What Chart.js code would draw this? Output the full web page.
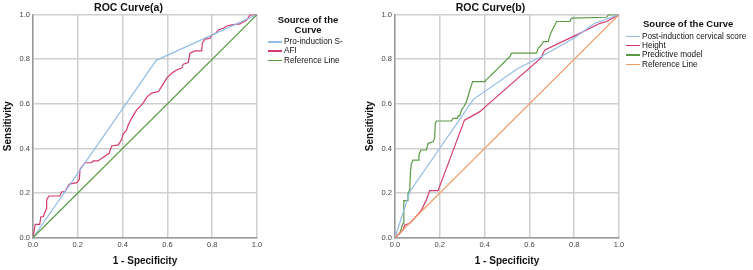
<!DOCTYPE html>
<html>
<head>
<meta charset="utf-8">
<script src="https://cdn.jsdelivr.net/npm/chart.js@4"></script>
<style>
  html, body { margin:0; padding:0; background:#fff; }
  body { width:753px; height:270px; position:relative; overflow:hidden; font-family:"Liberation Sans", Arial, sans-serif; }
  canvas { position:absolute; top:0; }
  .lg { position:absolute; color:#111; }
  .lg .t { font-weight:bold; font-size:9.5px; line-height:9.5px; text-align:center; }
  .lg .it { font-size:8.2px; line-height:9.4px; white-space:nowrap; position:relative; padding-left:16px; }
  .lg .it span { position:absolute; left:0; top:4px; width:14px; height:1.5px; }
</style>
</head>
<body>
<canvas id="ca" width="376" height="270" style="left:0;width:376px;height:270px"></canvas>
<canvas id="cb" width="376" height="270" style="left:362px;width:376px;height:270px"></canvas>

<div class="lg" id="lga" style="left:268px;top:15px;width:80px;">
  <div class="t">Source of the<br>Curve</div>
</div>
<div class="lg" id="lgb" style="left:626px;top:19px;width:127px;">
  <div class="t" style="text-align:left;padding-left:17px;">Source of the Curve</div>
</div>

<script>
// ---------- Data ----------
const tickValues = [0.0, 0.2, 0.4, 0.6, 0.8, 1.0];

// ROC Curve (a)
const proInductionX = [0, 0.55, 1];
const proInductionY = [0, 0.795, 1];

const afiX = [0, 0.01, 0.03, 0.035, 0.046, 0.06, 0.061, 0.071, 0.12, 0.128, 0.143, 0.155, 0.162, 0.195, 0.207, 0.21, 0.225, 0.232, 0.262, 0.269, 0.29, 0.34, 0.351, 0.381, 0.396, 0.403, 0.418, 0.425, 0.44, 0.463, 0.492, 0.508, 0.53, 0.56, 0.574, 0.597, 0.619, 0.641, 0.664, 0.671, 0.693, 0.701, 0.723, 0.753, 0.756, 0.768, 0.79, 0.798, 0.817, 0.827, 0.85, 0.865, 0.887, 0.924, 0.954, 0.969, 1];
const afiY = [0, 0.06, 0.06, 0.094, 0.094, 0.13, 0.169, 0.187, 0.187, 0.206, 0.206, 0.229, 0.24, 0.247, 0.262, 0.307, 0.326, 0.336, 0.336, 0.344, 0.344, 0.378, 0.411, 0.416, 0.441, 0.466, 0.483, 0.505, 0.535, 0.573, 0.603, 0.63, 0.648, 0.655, 0.677, 0.715, 0.737, 0.752, 0.76, 0.778, 0.785, 0.827, 0.837, 0.837, 0.872, 0.89, 0.894, 0.909, 0.917, 0.931, 0.939, 0.949, 0.954, 0.958, 0.976, 0.999, 1];

const refX = [0, 1];
const refY = [0, 1];

// ROC Curve (b)
const postInductionX = [0, 0.066, 0.35, 0.55, 0.65, 0.8, 0.89, 1];
const postInductionY = [0, 0.206, 0.62, 0.76, 0.81, 0.895, 0.96, 1];

const heightX = [0, 0.021, 0.036, 0.043, 0.066, 0.08, 0.118, 0.14, 0.155, 0.192, 0.241, 0.31, 0.379, 0.409, 0.652, 0.669, 0.811, 0.915, 0.945, 1];
const heightY = [0, 0.02, 0.035, 0.057, 0.065, 0.079, 0.124, 0.169, 0.211, 0.211, 0.341, 0.527, 0.565, 0.592, 0.806, 0.842, 0.909, 0.961, 0.969, 1];

const modelX = [0, 0.021, 0.029, 0.036, 0.039, 0.04, 0.054, 0.058, 0.066, 0.069, 0.073, 0.08, 0.103, 0.107, 0.115, 0.14, 0.148, 0.17, 0.177, 0.18, 0.185, 0.252, 0.259, 0.279, 0.282, 0.289, 0.297, 0.307, 0.316, 0.326, 0.334, 0.342, 0.346, 0.401, 0.409, 0.423, 0.438, 0.453, 0.468, 0.483, 0.498, 0.513, 0.52, 0.632, 0.639, 0.654, 0.662, 0.684, 0.692, 0.699, 0.714, 0.721, 0.781, 0.788, 0.945, 0.952, 1];
const modelY = [0, 0.02, 0.042, 0.065, 0.124, 0.166, 0.166, 0.2, 0.214, 0.296, 0.33, 0.348, 0.348, 0.371, 0.393, 0.393, 0.423, 0.43, 0.446, 0.513, 0.523, 0.523, 0.535, 0.535, 0.546, 0.546, 0.573, 0.587, 0.603, 0.632, 0.662, 0.685, 0.7, 0.7, 0.71, 0.722, 0.737, 0.752, 0.767, 0.782, 0.797, 0.812, 0.827, 0.827, 0.849, 0.864, 0.879, 0.879, 0.909, 0.924, 0.954, 0.969, 0.969, 0.984, 0.988, 0.999, 1];

const namesA = ["Pro-induction S-", "AFI", "Reference Line"];
const namesB = ["Post-induction cervical score", "Height", "Predictive model", "Reference Line"];

// ---------- Styles ----------
const BLUE = "#93bde6", RED = "#d43a6c", GREEN = "#5a9a44", ORANGE = "#f09a66";
const FONT = "'Liberation Sans', Arial, sans-serif";

function pts(xs, ys) { return xs.map((x, i) => ({x: x, y: ys[i]})); }
function ds(label, xs, ys, color) {
  return { label, data: pts(xs, ys), borderColor: color, backgroundColor: color,
           borderWidth: 1.2, pointRadius: 0, tension: 0, fill: false };
}

function makeOptions(title) {
  return {
    responsive: false, animation: false,
    layout: { padding: { left: 0, right: 119, top: 0, bottom: 0 } },
    plugins: {
      legend: { display: false },
      tooltip: { enabled: false },
      title: { display: true, text: title, color: "#111",
               font: { family: FONT, size: 10.5, weight: "bold" }, padding: { top: 2, bottom: 0 } }
    },
    scales: {
      x: {
        type: "linear", min: 0, max: 1,
        afterBuildTicks: s => { s.ticks = tickValues.map(v => ({value: v})); },
        afterFit: s => { s.height = 32.3; },
        ticks: { color: "#444", font: { family: FONT, size: 7.5 }, padding: 3,
                 callback: v => Number(v).toFixed(1), maxRotation: 0, autoSkip: false },
        grid: { color: "#cfcfcf", lineWidth: 1.5, drawTicks: false },
        border: { color: "#999999", width: 1.5 },
        title: { display: true, text: "1 - Specificity", color: "#111",
                 font: { family: FONT, size: 10, weight: "bold" }, padding: { top: 0, bottom: 3 } }
      },
      y: {
        type: "linear", min: 0, max: 1,
        afterBuildTicks: s => { s.ticks = tickValues.map(v => ({value: v})); },
        afterFit: s => { s.width = 33; },
        ticks: { color: "#444", font: { family: FONT, size: 7.5 }, padding: 3,
                 callback: v => Number(v).toFixed(1), autoSkip: false },
        grid: { color: "#cfcfcf", lineWidth: 1.5, drawTicks: false },
        border: { color: "#999999", width: 1.5 },
        title: { display: true, text: "Sensitivity", color: "#111",
                 font: { family: FONT, size: 10, weight: "bold" }, padding: { top: 2, bottom: 0 } }
      }
    }
  };
}

const dataA = [
  ds(namesA[2], refX, refY, GREEN),
  ds(namesA[0], proInductionX, proInductionY, BLUE),
  ds(namesA[1], afiX, afiY, RED)
];
const dataB = [
  ds(namesB[3], refX, refY, ORANGE),
  ds(namesB[0], postInductionX, postInductionY, BLUE),
  ds(namesB[1], heightX, heightY, RED),
  ds(namesB[2], modelX, modelY, GREEN)
];

new Chart(document.getElementById("ca"), { type: "line", data: { datasets: dataA }, options: makeOptions("ROC Curve(a)") });
new Chart(document.getElementById("cb"), { type: "line", data: { datasets: dataB }, options: makeOptions("ROC Curve(b)") });

// Legends (HTML text, colours from the datasets)
function addItems(id, names, colors, firstTop) {
  const box = document.getElementById(id);
  names.forEach((n, i) => {
    const d = document.createElement("div");
    d.className = "it";
    if (i === 0) d.style.marginTop = firstTop + "px";
    d.innerHTML = '<span style="background:' + colors[i] + '"></span>' + n;
    box.appendChild(d);
  });
}
addItems("lga", namesA, [BLUE, RED, GREEN], 3);
addItems("lgb", namesB, [BLUE, RED, GREEN, ORANGE], 3);
</script>
</body>
</html>
